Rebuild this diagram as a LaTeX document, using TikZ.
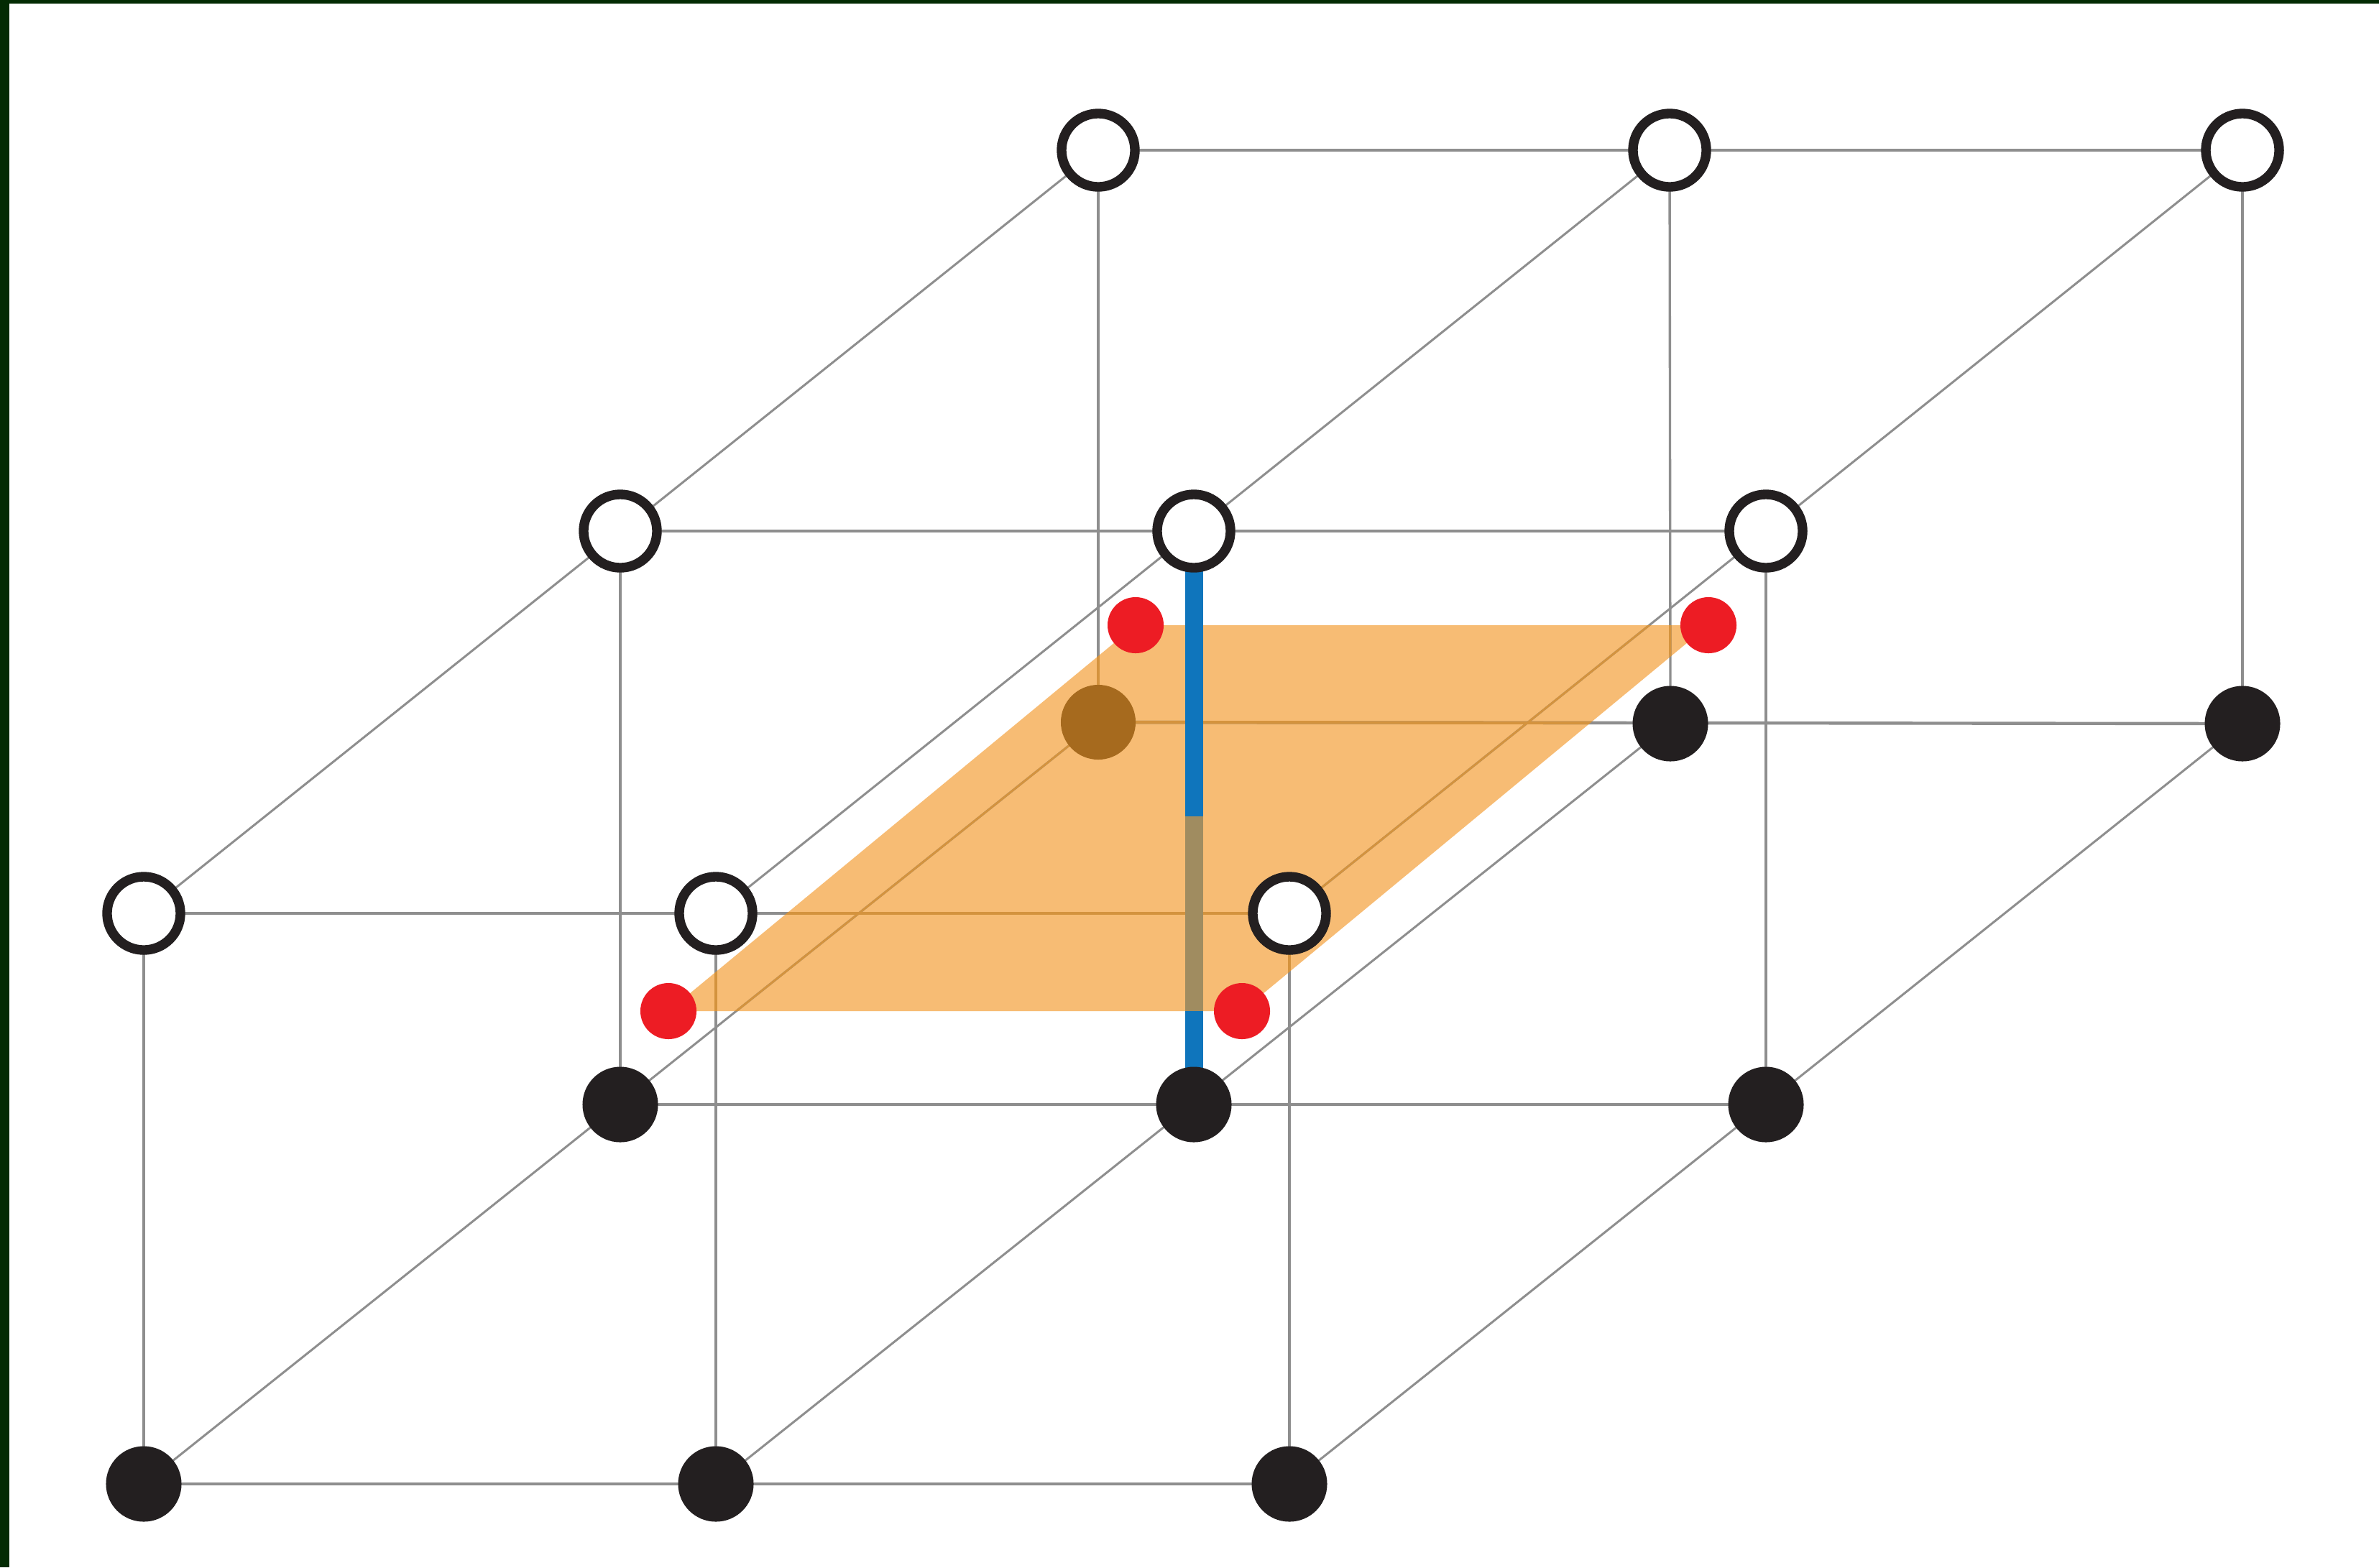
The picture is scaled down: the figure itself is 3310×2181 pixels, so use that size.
\documentclass[tikz,border=0pt]{standalone}
\definecolor{frame}{HTML}{032B03}
\definecolor{plane}{HTML}{F7BC74}
\definecolor{bluerod}{HTML}{0F75BC}
\definecolor{olive}{HTML}{A08C60}
\definecolor{brownatom}{HTML}{A66A1E}
\definecolor{redatom}{HTML}{ED1C24}
\definecolor{ink}{HTML}{231F20}
\definecolor{wire}{HTML}{8E8E8E}
\definecolor{wireplane}{HTML}{D4933E}
\tikzset{
  px/.style={x=0.01cm,y=-0.01cm},
  open/.style={circle,draw=ink,fill=white,line width=3.8pt,minimum size=1.02cm,inner sep=0pt,outer sep=0pt},
  solid atom/.style={circle,fill=ink,draw=none,minimum size=1.05cm,inner sep=0pt,outer sep=0pt},
  brown atom/.style={circle,fill=brownatom,draw=none,minimum size=1.04cm,inner sep=0pt,outer sep=0pt},
  red atom/.style={circle,fill=redatom,draw=none,minimum size=0.78cm,inner sep=0pt,outer sep=0pt},
  hline/.style={line width=1.25pt},
  vline/.style={line width=0.95pt},
  dline/.style={line width=0.85pt},
}
\newcommand{\wires}{%
  \foreach \a/\b in {ta/tc,ma/mc,fa/fc,ba/bc,na/nc,ga/gc}
    \draw[hline] (\a) -- (\b);
  \foreach \a/\b in {ta/ba,tb/bb,tc/bc,ma/na,mc/nc,fa/ga,fb/gb,fc/gc}
    \draw[vline] (\a) -- (\b);
  \foreach \a/\b in {fa/ta,fb/tb,fc/tc,ga/ba,gb/bb,gc/bc}
    \draw[dline] (\a) -- (\b);
}
\begin{document}
\begin{tikzpicture}[px]
\useasboundingbox (0,0) rectangle (3310,2181);
\fill[white] (0,0) rectangle (3310,2181);
\fill[frame] (0,0) rectangle (3310,5);
\fill[frame] (0,0) rectangle (13,2181);
\coordinate (p1) at (930,1407);
\coordinate (p2) at (1728,1407);
\coordinate (p3) at (2377,870);
\coordinate (p4) at (1580,870);
\fill[plane] (p1) -- (p2) -- (p3) -- (p4) -- cycle;
\coordinate (ta) at (1528,209);
\coordinate (tb) at (2323,209);
\coordinate (tc) at (3120,209);
\coordinate (ma) at (863,739);
\coordinate (mb) at (1661,739);
\coordinate (mc) at (2457,739);
\coordinate (fa) at (200,1271);
\coordinate (fb) at (996,1271);
\coordinate (fc) at (1794,1271);
\coordinate (ba) at (1528,1005);
\coordinate (bb) at (2324,1007);
\coordinate (bc) at (3120,1007);
\coordinate (na) at (863,1537);
\coordinate (nb) at (1661,1537);
\coordinate (nc) at (2457,1537);
\coordinate (ga) at (200,2065);
\coordinate (gb) at (996,2065);
\coordinate (gc) at (1794,2065);
\begin{scope}[draw=wire]
\wires
\end{scope}
\begin{scope}[draw=wireplane]
\clip (p1) -- (p2) -- (p3) -- (p4) -- cycle;
\wires
\end{scope}
\coordinate (o1) at (1661,1136);
\coordinate (o2) at (1661,1407);
\draw[bluerod,line width=7.1pt] (mb) -- (nb);
\draw[olive,line width=7.1pt] (o1) -- (o2);
\foreach \n in {ta,tb,tc,ma,mb,mc,fa,fb,fc}
  \node[open] (n\n) at (\n) {};
\foreach \n in {bb,bc,na,nb,nc,ga,gb,gc}
  \node[solid atom] (n\n) at (\n) {};
\node[brown atom] (nba) at (ba) {};
\node[red atom] (r1) at (p1) {};
\node[red atom] (r2) at (p2) {};
\node[red atom] (r3) at (p3) {};
\node[red atom] (r4) at (p4) {};
\end{tikzpicture}
\end{document}
